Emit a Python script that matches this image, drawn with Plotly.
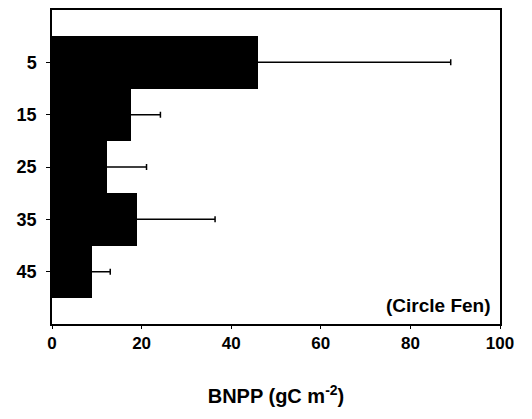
import plotly.graph_objects as go

depths = [5, 15, 25, 35, 45]
bnpp = [46.0, 17.6, 12.3, 19.0, 8.9]
err_plus = [43.0, 6.6, 8.8, 17.4, 4.1]
x_ticks = [0, 20, 40, 60, 80, 100]

fig = go.Figure()
fig.add_trace(go.Bar(
    x=bnpp, y=depths, orientation="h", width=10,
    marker=dict(color="black", line=dict(width=0)),
))
# error whiskers, starting slightly inside the bar so the base cap is hidden
inset = 1.0
fig.add_trace(go.Scatter(
    x=[v - inset for v in bnpp], y=depths, mode="markers",
    marker=dict(size=1, color="rgba(0,0,0,0)"),
    error_x=dict(type="data", array=[e + inset for e in err_plus],
                 arrayminus=[0] * len(err_plus), symmetric=False,
                 color="black", thickness=1.5, width=3),
    hoverinfo="skip",
))

font_main = "Liberation Sans, Arial, sans-serif"
fig.update_layout(
    width=532, height=419,
    margin=dict(l=52, r=32, t=8, b=95),
    paper_bgcolor="white", plot_bgcolor="white",
    showlegend=False, bargap=0,
    font=dict(family=font_main, color="black"),
    xaxis=dict(range=[0, 100], tickvals=x_ticks, showgrid=False, zeroline=False,
               showline=True, linecolor="black", linewidth=1.5, mirror=True,
               ticks="outside", ticklen=3, tickcolor="black",
               tickfont=dict(size=17, family=font_main, weight="bold"),
               title=dict(text="BNPP (gC m<sup>-2</sup>)", standoff=37,
                          font=dict(size=20, family=font_main, weight="bold"))),
    yaxis=dict(range=[55, -5], tickvals=depths, showgrid=False, zeroline=False,
               showline=True, linecolor="black", linewidth=1.5, mirror=True,
               ticks="outside", ticklen=4, tickcolor="black", ticklabelstandoff=6,
               tickfont=dict(size=18, family=font_main, weight="bold")),
    annotations=[dict(text="(Circle Fen)", xref="x", yref="y", x=98.5, y=51.5,
                      xanchor="right", yanchor="middle", showarrow=False,
                      font=dict(size=19, family=font_main, weight="bold"))],
)
fig.write_html("out.html", config={"displayModeBar": False},
               post_script="document.body.style.margin='0';document.body.style.padding='0';")
